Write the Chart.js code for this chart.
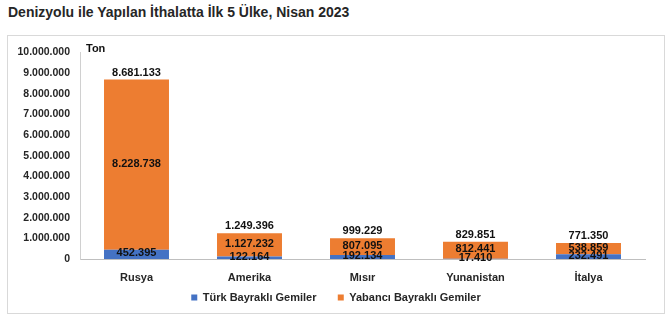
<!DOCTYPE html>
<html>
<head>
<meta charset="utf-8">
<script src="https://cdn.jsdelivr.net/npm/chart.js@4.4.0/dist/chart.umd.min.js"></script>
<style>
  body { margin: 0; background: #fff; font-family: "Liberation Sans", Arial, sans-serif; }
  #title { position: absolute; left: 8px; top: 4px; font-size: 14px; font-weight: bold; color: #262626; white-space: nowrap; }
  #box { position: absolute; left: 7px; top: 35px; width: 656px; height: 277px; border: 1px solid #d9d9d9; }
</style>
</head>
<body>
<div id="title">Denizyolu ile Yapılan İthalatta İlk 5 Ülke, Nisan 2023</div>
<div id="box"><canvas id="chart" width="656" height="277"></canvas></div>
<script>
// data (tons)
const countries = ['Rusya', 'Amerika', 'Mısır', 'Yunanistan', 'İtalya'];
const turkFlag = [452395, 122164, 192134, 17410, 232491];
const foreignFlag = [8228738, 1127232, 807095, 812441, 538859];
const totals = [8681133, 1249396, 999229, 829851, 771350];
const seriesNames = ['Türk Bayraklı Gemiler', 'Yabancı Bayraklı Gemiler'];
const yMax = 10000000;
const yStep = 1000000;
const unitLabel = 'Ton';

const FONT = '"Liberation Sans", Arial, sans-serif';
const TEXT = '#262626';
const RIGHT_PAD = 19;

// turkish thousands separator
const fmt = n => String(n).replace(/\B(?=(\d{3})+(?!\d))/g, '.');

const valueLabels = {
    id: 'valueLabels',
    afterLayout(chart) {
        // center the legend on the whole box, not on the padded area
        chart.legend.left += RIGHT_PAD / 2;
        chart.legend.right += RIGHT_PAD / 2;
    },
    afterDatasetsDraw(chart) {
        const ctx = chart.ctx;
        ctx.save();
        ctx.font = 'bold 11px ' + FONT;
        ctx.fillStyle = '#111';
        ctx.textAlign = 'center';
        ctx.textBaseline = 'middle';
        chart.data.datasets.forEach((ds, i) => {
            chart.getDatasetMeta(i).data.forEach((bar, j) => {
                ctx.fillText(fmt(ds.data[j]), bar.x, (bar.y + bar.base) / 2 - 1);
            });
        });
        // totals above the stack
        chart.getDatasetMeta(1).data.forEach((bar, j) => {
            ctx.fillText(fmt(totals[j]), bar.x, bar.y - 7);
        });
        ctx.textAlign = 'left';
        ctx.fillText(unitLabel, chart.chartArea.left + 6, chart.chartArea.top - 3);
        ctx.restore();
    }
};

new Chart(document.getElementById('chart'), {
    type: 'bar',
    data: {
        labels: countries,
        datasets: [
            { label: seriesNames[0], data: turkFlag, backgroundColor: '#4472C4', borderWidth: 0 },
            { label: seriesNames[1], data: foreignFlag, backgroundColor: '#ED7D31', borderWidth: 0 }
        ]
    },
    options: {
        responsive: false,
        animation: false,
        layout: { padding: { top: 12, right: RIGHT_PAD, bottom: 0, left: 0 } },
        datasets: { bar: { categoryPercentage: 1, barPercentage: 0.575 } },
        scales: {
            x: {
                stacked: true,
                grid: { display: false, drawTicks: false },
                border: { display: true, color: '#bfbfbf' },
                ticks: { color: TEXT, font: { family: FONT, size: 11, weight: 'bold' }, padding: 12 },
                // default fit leaves too much room under the labels
                afterFit: s => { s.height = 27; }
            },
            y: {
                stacked: true,
                min: 0,
                max: yMax,
                grid: { display: false, drawTicks: false },
                border: { display: true, color: '#d0d0d0' },
                ticks: {
                    stepSize: yStep,
                    color: TEXT,
                    padding: 10,
                    font: { family: FONT, size: 10.5, weight: 'bold' },
                    callback: v => fmt(v)
                },
                afterFit: s => { s.width = 72; }
            }
        },
        plugins: {
            tooltip: { enabled: false },
            legend: {
                position: 'bottom',
                labels: {
                    boxWidth: 6,
                    boxHeight: 6,
                    padding: 6,
                    color: TEXT,
                    font: { family: FONT, size: 11, weight: 'bold' },
                    // wider gap between the two entries, like the original
                    generateLabels: chart => Chart.defaults.plugins.legend.labels.generateLabels(chart)
                        .map((item, i) => i === 0 ? Object.assign(item, { text: item.text + '     ' }) : item)
                }
            }
        }
    },
    plugins: [valueLabels]
});
</script>
</body>
</html>
